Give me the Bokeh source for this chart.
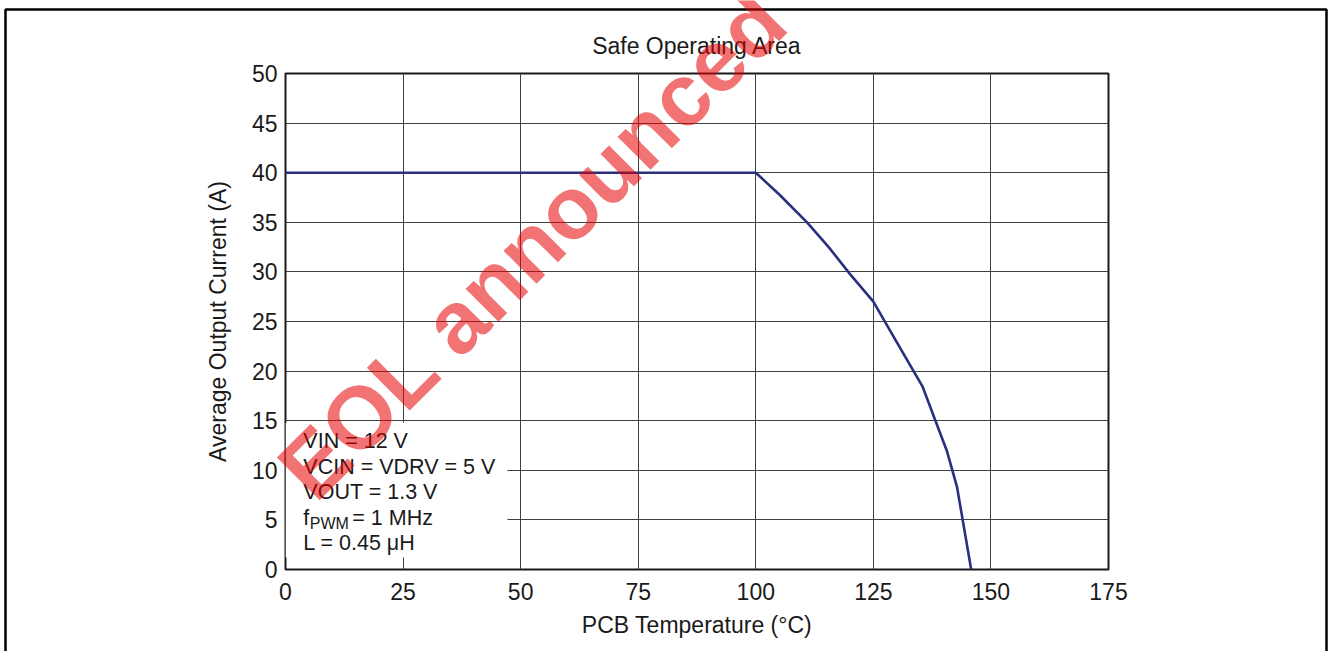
import math
from bokeh.plotting import figure
from bokeh.models import Range1d, FixedTicker, Label
from bokeh.core.properties import value
from bokeh.embed import file_html
from bokeh.resources import INLINE

# ---- data ----
temperature_c = [0, 100, 105, 110.9, 115.5, 120, 125, 130, 135.5, 138.2, 140.6, 142.8, 145.8]
avg_current_a = [40, 40, 37.8, 35.0, 32.5, 29.8, 27.0, 22.9, 18.4, 15.0, 12.0, 8.3, 0]
x_ticks = [0, 25, 50, 75, 100, 125, 150, 175]
y_ticks = [0, 5, 10, 15, 20, 25, 30, 35, 40, 45, 50]
title_text = "Safe Operating Area"
x_title = "PCB Temperature (°C)"
y_title = "Average Output Current (A)"
conditions = ["VIN = 12 V", "VCIN = VDRV = 5 V", "VOUT = 1.3 V", None, "L = 0.45 μH"]
watermark = "EOL announced"

FONT = "Liberation Sans"
W, H = 1328, 651
INK = "#1a1a1a"

p = figure(width=W, height=H, output_backend="svg", toolbar_location=None,
           x_range=Range1d(0, 175), y_range=Range1d(0, 50),
           min_border_left=285, min_border_right=220,
           min_border_top=73, min_border_bottom=82)
p.background_fill_color = "white"
p.border_fill_color = "white"
p.outline_line_color = INK
p.outline_line_width = 2

p.title.text = title_text
p.title.align = "center"
p.title.text_font = FONT
p.title.text_font_size = "23px"
p.title.text_font_style = "normal"
p.title.text_color = INK
p.title.standoff = 30

for ax in (p.xaxis[0], p.yaxis[0]):
    ax.axis_line_color = None
    ax.major_tick_line_color = None
    ax.minor_tick_line_color = None
    ax.major_tick_out = 0
    ax.major_tick_in = 0
    ax.minor_tick_out = 0
    ax.minor_tick_in = 0
    ax.major_label_text_font = FONT
    ax.major_label_text_font_size = "23px"
    ax.major_label_text_color = INK
    ax.axis_label_text_font = FONT
    ax.axis_label_text_font_size = "23px"
    ax.axis_label_text_font_style = "normal"
    ax.axis_label_text_color = INK
p.xaxis.ticker = FixedTicker(ticks=x_ticks)
p.yaxis.ticker = FixedTicker(ticks=y_ticks)
p.xaxis.major_label_standoff = 13
p.yaxis.major_label_standoff = 8
p.xaxis.axis_label = x_title
p.yaxis.axis_label = y_title
p.xaxis.axis_label_standoff = 9
p.yaxis.axis_label_standoff = 18

p.xgrid.ticker = FixedTicker(ticks=x_ticks)
p.ygrid.ticker = FixedTicker(ticks=y_ticks)
for g in (p.xgrid[0], p.ygrid[0]):
    g.grid_line_color = "#404040"
    g.grid_line_width = 1

# conditions box (white, hides grid)
p.quad(left=[0], right=[47.2], bottom=[1.2], top=[14.8],
       fill_color="white", line_color=None)

# curve
p.line(temperature_c, avg_current_a, line_color="#2a2f7f", line_width=2.6)

# condition texts
TS = "21.5px"
line_y = [13.0, 10.35, 7.83, 5.24, 2.64]
for txt, yy in zip(conditions, line_y):
    if txt is None:
        continue
    p.text(x=[3.8], y=[yy], text=[txt], text_font=value(FONT), text_font_size=TS,
           text_color=INK, text_align="left", text_baseline="middle")
# f_PWM = 1 MHz
p.text(x=[3.8], y=[5.24], text=["f"], text_font=value(FONT), text_font_size=TS,
       text_color=INK, text_align="left", text_baseline="middle")
p.text(x=[5.15], y=[4.65], text=["PWM"], text_font=value(FONT), text_font_size="16px",
       text_color=INK, text_align="left", text_baseline="middle")
p.text(x=[14.2], y=[5.24], text=["= 1 MHz"], text_font=value(FONT), text_font_size=TS,
       text_color=INK, text_align="left", text_baseline="middle")

# ---- transparent overlay page layer: outer frame + watermark (not clipped to plot) ----
o = figure(width=W, height=H, output_backend="svg", toolbar_location=None,
           x_range=Range1d(0, W), y_range=Range1d(0, H),
           min_border=0, x_axis_type=None, y_axis_type=None)
o.grid.visible = False
o.outline_line_color = None
o.background_fill_alpha = 0
o.border_fill_alpha = 0
o.styles = {"position": "absolute", "left": "0px", "top": "0px", "pointer-events": "none"}

o.line([5, 5, 1326, 1326], [-10, H - 9, H - 9, -10], line_color="black", line_width=2.5)
o.add_layout(Label(x=532, y=H - 244, text=watermark, text_font=FONT, text_font_size="88px",
                   text_font_style="bold", text_color="#e60000", text_alpha=0.55,
                   text_align="center", text_baseline="middle", angle=math.radians(45)))

open("out.html", "w").write(file_html([p, o], INLINE))
